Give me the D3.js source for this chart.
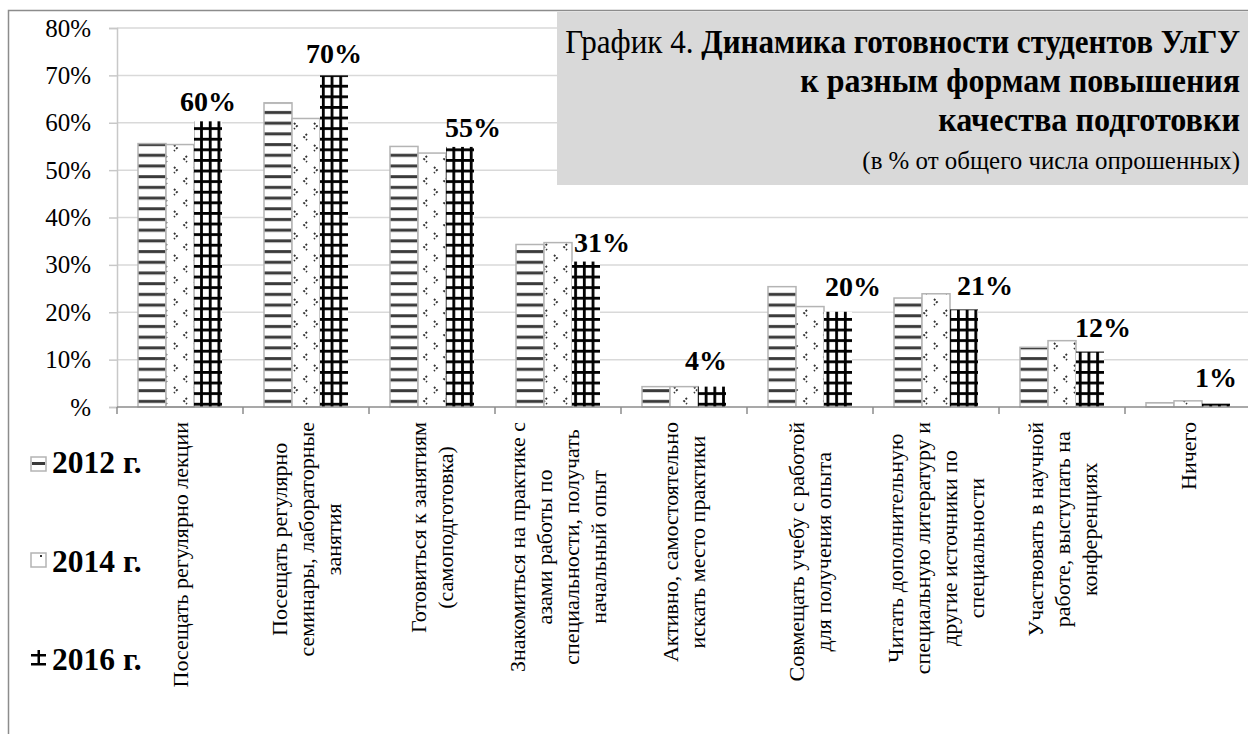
<!DOCTYPE html>
<html><head><meta charset="utf-8">
<script src="https://cdn.jsdelivr.net/npm/d3@7"></script>
<style>
html,body{margin:0;padding:0;background:#fff;}
svg{display:block;font-family:"Liberation Serif","Times New Roman",serif;}
</style></head><body>
<svg id="chart" width="1248" height="734"></svg>
<script>
// ---------- data ----------
const categories = [
  ["Посещать регулярно лекции"],
  ["Посещать регулярно", "семинары, лабораторные", "занятия"],
  ["Готовиться к занятиям", "(самоподготовка)"],
  ["Знакомиться на практике с", "азами работы по", "специальности, получать", "начальный опыт"],
  ["Активно, самостоятельно", "искать место практики"],
  ["Совмещать учебу с работой", "для получения опыта"],
  ["Читать дополнительную", "специальную литературу и", "другие источники по", "специальности"],
  ["Участвовать в научной", "работе, выступать на", "конференциях"],
  ["Ничего"]
];
const years = ["2012 г.", "2014 г.", "2016 г."];
const values2012 = [55.6, 64.2, 55.0, 34.3, 4.3, 25.4, 23.0, 12.6, 0.9];
const values2014 = [55.4, 60.9, 53.6, 34.7, 4.3, 21.2, 23.9, 14.0, 1.3];
const values2016 = [60.3, 70.0, 54.9, 30.7, 4.3, 20.1, 20.6, 11.7, 0.7];
const yTicks = [0, 10, 20, 30, 40, 50, 60, 70, 80];
const yTickLabels = ["%", "10%", "20%", "30%", "40%", "50%", "60%", "70%", "80%"];
const titleLead = "График 4. ";
const titleBold = ["Динамика готовности студентов УлГУ", "к разным формам повышения", "качества подготовки"];
const subtitle = "(в % от общего числа опрошенных)";
// label nudges (layout only): [dx, gap above bar]
const labelNudge = [[0,10],[0,12],[13,10],[16,10],[-6,17],[15,16],[21,14],[13,15],[0,17]];

const series = [values2012, values2014, values2016];

// ---------- layout ----------
const svg = d3.select("#chart");
const W = 1248, H = 734;
const plotL = 117, plotR = 1251, plotT = 28, plotB = 407;

const defs = svg.append("defs");
// 2012: horizontal stripes
const p1 = defs.append("pattern").attr("id","p2012").attr("patternUnits","userSpaceOnUse")
  .attr("width",10).attr("height",10.7);
p1.append("rect").attr("width",10).attr("height",10.7).attr("fill","#fff");
p1.append("rect").attr("y",4).attr("width",10).attr("height",3).attr("fill","#3a3a3a");
// 2014: divot
const p2 = defs.append("pattern").attr("id","p2014").attr("patternUnits","userSpaceOnUse")
  .attr("width",20).attr("height",22);
p2.append("rect").attr("width",20).attr("height",22).attr("fill","#fff");
p2.append("path").attr("d","M7,2 L4,5 L7,8").attr("fill","none").attr("stroke","#333").attr("stroke-width",1.8).attr("stroke-dasharray","2 1.6");
p2.append("path").attr("d","M14,13 L17,16 L14,19").attr("fill","none").attr("stroke","#333").attr("stroke-width",1.8).attr("stroke-dasharray","2 1.6");
// 2016: grid
const p3 = defs.append("pattern").attr("id","p2016").attr("patternUnits","userSpaceOnUse")
  .attr("width",8.7).attr("height",10.6);
p3.append("rect").attr("width",8.7).attr("height",10.6).attr("fill","#fff");
p3.append("rect").attr("x",0).attr("width",2.8).attr("height",10.6).attr("fill","#000");
p3.append("rect").attr("y",0).attr("width",8.7).attr("height",2.8).attr("fill","#000");

const fills = ["url(#p2012)","url(#p2014)","url(#p2016)"];
const strokes = ["#b4b4b4","#b4b4b4","none"];

// outer border
svg.append("path").attr("d",`M8.5,${H} L8.5,10.5 L${W},10.5`).attr("fill","none").attr("stroke","#8c8c8c").attr("stroke-width",1.5);

const x0 = d3.scaleBand().domain(d3.range(categories.length)).range([plotL, plotR]).padding(0);
const x1 = d3.scaleBand().domain(d3.range(years.length)).range([0, x0.bandwidth()]).paddingInner(0).paddingOuter(0.75);
const y = d3.scaleLinear().domain([0, 80]).range([plotB, plotT]);

// gridlines
svg.append("g").selectAll("line").data(yTicks.filter(d=>d>0)).join("line")
  .attr("x1",plotL).attr("x2",W).attr("y1",d=>y(d)).attr("y2",d=>y(d))
  .attr("stroke","#d9d9d9").attr("stroke-width",1.5);

// y axis
const yAxis = d3.axisLeft(y).tickValues(yTicks).tickSize(8).tickPadding(18)
  .tickFormat((d,i)=>yTickLabels[i]);
const gy = svg.append("g").attr("transform",`translate(${plotL},0)`).call(yAxis);
gy.select(".domain").attr("stroke","#c8c8c8").attr("stroke-width",1.5);
gy.selectAll(".tick line").attr("stroke","#c8c8c8").attr("stroke-width",1.5);
gy.selectAll(".tick text").attr("font-family","Liberation Serif").attr("font-size",25).attr("fill","#000");

// title box
svg.append("rect").attr("x",557).attr("y",12).attr("width",W-557).attr("height",173).attr("fill","#d9d9d9");

// bars
const gBars = svg.append("g");
series.forEach((vals, si) => {
  gBars.append("g").selectAll("rect").data(vals).join("rect")
    .attr("x",(d,i)=>x0(i)+x1(si))
    .attr("width",x1.bandwidth())
    .attr("y",d=>y(d))
    .attr("height",d=>y(0)-y(d))
    .attr("fill",fills[si])
    .attr("stroke",strokes[si]).attr("stroke-width",1.5);
});

// x axis
const xAxis = d3.axisBottom(x0).tickSize(0).tickFormat("");
const gx = svg.append("g").attr("transform",`translate(0,${plotB})`).call(xAxis);
gx.select(".domain").attr("stroke","#8c8c8c").attr("stroke-width",1.5).attr("d",`M${plotL},0H${W}`);
gx.append("g").selectAll("line").data(d3.range(categories.length+1)).join("line")
  .attr("x1",i=>plotL+i*x0.step()).attr("x2",i=>plotL+i*x0.step())
  .attr("y1",0).attr("y2",7).attr("stroke","#8c8c8c").attr("stroke-width",1.5);

// value labels on 2016 bars
svg.append("g").selectAll("text").data(values2016).join("text")
  .attr("x",(d,i)=>x0(i)+x1(2)+x1.bandwidth()/2+labelNudge[i][0])
  .attr("y",(d,i)=>y(d)-labelNudge[i][1])
  .attr("text-anchor","middle").attr("font-weight","bold").attr("font-size",28)
  .text(d=>Math.round(d)+"%");

// category labels
const lh = 27;
categories.forEach((lines, i) => {
  const cx = x0(i) + x0.bandwidth()/2;
  const g = svg.append("g").attr("transform",`translate(${cx},422) rotate(-90)`);
  const texts = g.selectAll("text").data(lines).join("text")
    .attr("font-size",22).attr("text-anchor","middle").attr("dominant-baseline","central")
    .attr("y",(d,k)=>(k-(lines.length-1)/2)*lh)
    .text(d=>d);
  let maxLen = 0;
  texts.each(function(){ maxLen = Math.max(maxLen, this.getComputedTextLength()); });
  texts.attr("x", -maxLen/2);
});

// legend
const legY = [473, 572, 670];
const gl = svg.append("g");
years.forEach((yr, i) => {
  gl.append("text").attr("x",52).attr("y",legY[i]).attr("font-size",31.5).attr("font-weight","bold").text(yr);
});
// markers
const m1 = gl.append("g").attr("transform",`translate(31,${legY[0]-16})`);
m1.append("rect").attr("width",15).attr("height",14).attr("fill","#fff").attr("stroke","#b4b4b4").attr("stroke-width",1.5);
m1.append("rect").attr("x",1).attr("y",5).attr("width",13).attr("height",3).attr("fill","#3a3a3a");
const m2 = gl.append("g").attr("transform",`translate(31,${legY[1]-19})`);
m2.append("rect").attr("width",15).attr("height",14).attr("fill","#fff").attr("stroke","#b4b4b4").attr("stroke-width",1.5);
m2.append("rect").attr("x",9).attr("y",2).attr("width",2).attr("height",2).attr("fill","#333");
const m3 = gl.append("g").attr("transform",`translate(31,${legY[2]-20})`);
m3.append("rect").attr("x",0).attr("y",4).attr("width",15).attr("height",2.5).attr("fill","#000");
m3.append("rect").attr("x",6.5).attr("y",0).attr("width",2.5).attr("height",15).attr("fill","#000");
m3.append("rect").attr("x",0).attr("y",13).attr("width",15).attr("height",2.5).attr("fill","#000");

// title
const titleRight = 1240;
function fitLine(build, baseline, targetW, size){
  const t = svg.append("text").attr("text-anchor","end").attr("font-size",size);
  build(t);
  const w = t.node().getComputedTextLength();
  const sx = targetW / w;
  t.attr("transform",`translate(${titleRight},${baseline}) scale(${sx},1)`);
}
fitLine(t=>{ t.append("tspan").text(titleLead); t.append("tspan").attr("font-weight","bold").text(titleBold[0]); }, 53, 675, 33);
fitLine(t=>{ t.append("tspan").attr("font-weight","bold").text(titleBold[1]); }, 92, 440, 33);
fitLine(t=>{ t.append("tspan").attr("font-weight","bold").text(titleBold[2]); }, 131, 302, 33);
fitLine(t=>{ t.text(subtitle); }, 169, 378, 25);
</script>
</body></html>
